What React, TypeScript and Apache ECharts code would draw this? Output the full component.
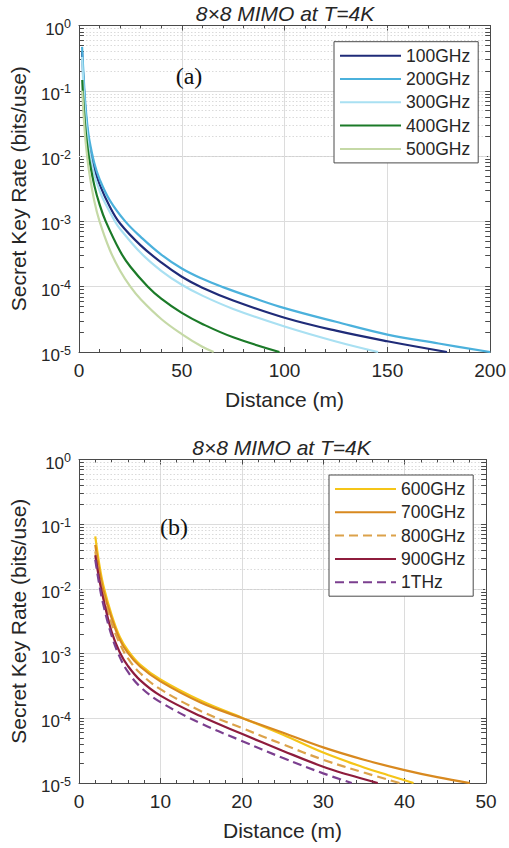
import React, { useEffect, useRef } from "react";
import * as echarts from "echarts";

// ---------- Data ----------
// Panel (a)
const dist100 = [1.5, 2, 3, 4, 5, 7.5, 10, 15, 20, 30, 40, 50, 60, 75, 100, 125, 150, 179];
const rate100 = [0.4, 0.18, 0.057, 0.0257, 0.015, 0.0064, 0.0037, 0.00168, 0.00093, 0.00043, 0.000235, 0.000142, 0.0000965, 0.0000615, 0.0000335, 0.0000212, 0.0000146, 0.00001];

const dist200 = [1.5, 2, 3, 4, 5, 7.5, 10, 15, 22.5, 30, 40, 50, 60, 70, 85, 100, 125, 150, 175, 200];
const rate200 = [0.47, 0.23, 0.069, 0.031, 0.018, 0.0077, 0.00445, 0.0021, 0.001, 0.00058, 0.00031, 0.00019, 0.000132, 0.0000985, 0.000067, 0.000047, 0.000029, 0.0000185, 0.0000135, 0.00001];

const dist300 = [1.5, 2, 3, 4, 5, 7.5, 10, 12, 17.5, 20, 30, 40, 50, 60, 75, 100, 125, 145.5];
const rate300 = [0.33, 0.15, 0.046, 0.0205, 0.012, 0.0051, 0.00297, 0.0021, 0.001, 0.000766, 0.00033, 0.000175, 0.000107, 0.000073, 0.0000457, 0.0000246, 0.0000145, 0.00001];

const dist400 = [1.6, 2, 3, 4, 5, 7.5, 10, 13, 20, 25, 33.5, 40, 50, 60, 75, 97.5];
const rate400 = [0.146, 0.08, 0.029, 0.0148, 0.0089, 0.0035, 0.00182, 0.001, 0.000348, 0.000202, 0.0001, 0.0000656, 0.0000397, 0.0000269, 0.0000168, 0.00001];

const dist500 = [1.6, 2, 3, 4, 5, 7.5, 10, 15, 20, 25, 30, 40, 50, 60, 65.5];
const rate500 = [0.1, 0.056, 0.0199, 0.0097, 0.00555, 0.00201, 0.001, 0.000365, 0.000175, 0.0001, 0.000064, 0.000032, 0.0000188, 0.000012, 0.00001];

// Panel (b)
const dist600 = [2, 2.5, 3, 4, 5, 6, 7.5, 10, 15, 20, 25, 30, 35, 38, 41.1];
const rate600 = [0.0646, 0.0237, 0.0112, 0.00397, 0.00182, 0.00112, 0.000676, 0.000398, 0.000186, 0.0001023, 0.0000562, 0.0000295, 0.0000174, 0.0000132, 0.00001];

const dist700 = [2, 2.5, 3, 4, 5, 6, 7.5, 10, 15, 20, 25, 30, 35, 40, 44, 48];
const rate700 = [0.0479, 0.01905, 0.00933, 0.00355, 0.00166, 0.001023, 0.000631, 0.000372, 0.000174, 0.0001012, 0.0000603, 0.0000355, 0.0000229, 0.0000158, 0.0000123, 0.00001];

const dist800 = [2, 2.5, 3, 4, 5, 6, 7.5, 10, 15, 20, 25, 30, 35, 39.4];
const rate800 = [0.038, 0.01585, 0.00794, 0.00295, 0.001445, 0.000851, 0.000501, 0.000282, 0.0001288, 0.0000708, 0.0000398, 0.0000229, 0.0000145, 0.00001];

const dist900 = [2, 2.5, 3, 4, 5, 6, 7.5, 10, 15, 20, 25, 30, 33, 36.7];
const rate900 = [0.0331, 0.0138, 0.00692, 0.00219, 0.001047, 0.000646, 0.000389, 0.000224, 0.0001072, 0.0000575, 0.0000316, 0.0000178, 0.0000135, 0.00001];

const dist1T = [2, 2.5, 3, 4, 5, 6, 7.5, 10, 15, 20, 25, 30, 33.5];
const rate1T = [0.0282, 0.01148, 0.00562, 0.001905, 0.000891, 0.000525, 0.000309, 0.000178, 0.0000832, 0.0000447, 0.0000245, 0.0000141, 0.00001];

const namesA = ["100GHz", "200GHz", "300GHz", "400GHz", "500GHz"];
const namesB = ["600GHz", "700GHz", "800GHz", "900GHz", "1THz"];

const titleText = "8×8 MIMO at T=4K";
const xName = "Distance (m)";
const yName = "Secret Key Rate (bits/use)";
const xTicksA = { min: 0, max: 200, interval: 50 };
const xTicksB = { min: 0, max: 50, interval: 10 };
const yRange = { min: 1e-5, max: 1 };

// ---------- Styles ----------
const FONT = '"Liberation Sans", Arial, sans-serif';
const TXT = "#262626";
const AX = "#4a4a4a";

const minorVals: number[] = [];
for (let k = -5; k < 0; k++) {
  for (let m = 2; m <= 9; m++) minorVals.push(m * Math.pow(10, k));
}

function mkSeries(name: string, dist: number[], rate: number[], color: string, dashed: boolean, g: number) {
  return {
    type: "line",
    name,
    xAxisIndex: g * 2,
    yAxisIndex: g * 2,
    data: dist.map((d, i) => [d, rate[i]]),
    symbol: "none",
    showSymbol: false,
    smooth: 0.4,
    lineStyle: { color, width: 2.2, type: dashed ? [9, 5] : "solid" },
    itemStyle: { color },
    emphasis: { disabled: true },
    z: 5,
  };
}

function helperSeries(g: number, xmin: number, xmax: number, tl: number) {
  const gridLines = minorVals.map((v) => ({ yAxis: v }));
  const ticks: any[] = [];
  minorVals.forEach((v) => {
    ticks.push([{ coord: [xmin, v] }, { coord: [xmin + tl, v] }]);
    ticks.push([{ coord: [xmax - tl, v] }, { coord: [xmax, v] }]);
  });
  return [
    {
      type: "line",
      xAxisIndex: g * 2,
      yAxisIndex: g * 2,
      data: [],
      silent: true,
      z: 1,
      markLine: {
        silent: true,
        symbol: ["none", "none"],
        label: { show: false },
        animation: false,
        lineStyle: { color: "#d0d0d0", width: 0.8, type: [1.5, 2] },
        emphasis: { disabled: true },
        data: gridLines,
      },
    },
    {
      type: "line",
      xAxisIndex: g * 2,
      yAxisIndex: g * 2,
      data: [],
      silent: true,
      z: 6,
      markLine: {
        silent: true,
        symbol: ["none", "none"],
        label: { show: false },
        animation: false,
        lineStyle: { color: AX, width: 1, type: "solid" },
        emphasis: { disabled: true },
        data: ticks,
      },
    },
  ];
}

function xAxes(g: number, t: { min: number; max: number; interval: number }) {
  const base = {
    gridIndex: g,
    type: "value",
    min: t.min,
    max: t.max,
    interval: t.interval,
    axisLine: { show: true, onZero: false, lineStyle: { color: AX, width: 1 } },
    axisTick: { show: true, inside: true, length: 5, lineStyle: { color: AX } },
    minorTick: { show: true, splitNumber: 5, length: 3, lineStyle: { color: AX } },
  };
  return [
    {
      ...base,
      position: "bottom",
      splitLine: { show: true, lineStyle: { color: "#dcdcdc", width: 1 } },
      axisLabel: { show: true, fontSize: 19, color: TXT, fontFamily: FONT, margin: 9 },
      name: xName,
      nameLocation: "middle",
      nameGap: 37,
      nameTextStyle: { fontSize: 21, color: TXT, fontFamily: FONT },
    },
    {
      ...base,
      position: "top",
      splitLine: { show: false },
      axisLabel: { show: false },
    },
  ];
}

function yAxes(g: number) {
  const base = {
    gridIndex: g,
    type: "log",
    logBase: 10,
    min: yRange.min,
    max: yRange.max,
    splitNumber: 5,
    axisLine: { show: true, onZero: false, lineStyle: { color: AX, width: 1 } },
    axisTick: { show: true, inside: true, length: 5, lineStyle: { color: AX } },
  };
  return [
    {
      ...base,
      position: "left",
      splitLine: { show: true, lineStyle: { color: "#dcdcdc", width: 1 } },
      axisLabel: {
        show: true,
        margin: 8,
        padding: [4, 0, 0, 0],
        formatter: (v: number) => {
          const e = Math.round(Math.log10(v));
          return `{b|10}{e|${e}}`;
        },
        rich: {
          b: { fontSize: 17, fontFamily: FONT, color: TXT, lineHeight: 20, verticalAlign: "bottom" },
          e: { fontSize: 12.5, fontFamily: FONT, color: TXT, lineHeight: 12, verticalAlign: "top" },
        },
      },
      name: yName,
      nameLocation: "middle",
      nameGap: 50,
      nameTextStyle: { fontSize: 21, color: TXT, fontFamily: FONT },
    },
    {
      ...base,
      position: "right",
      splitLine: { show: false },
      axisLabel: { show: false },
    },
  ];
}

function legend(names: string[], left: number, top: number) {
  return {
    data: names,
    orient: "vertical",
    left,
    top,
    itemWidth: 61,
    itemHeight: 10,
    itemGap: 5.3,
    padding: [5, 8, 5, 5],
    borderColor: AX,
    borderWidth: 1,
    backgroundColor: "#ffffff",
    selectedMode: false,
    itemStyle: { opacity: 0 },
    textStyle: { fontSize: 17.5, color: TXT, fontFamily: FONT, lineHeight: 18 },
    z: 10,
  };
}

export default function App() {
  const ref = useRef<HTMLDivElement>(null);
  useEffect(() => {
    if (!ref.current) return;
    const chart = echarts.init(ref.current, undefined, { renderer: "svg" });
    const option: any = {
      animation: false,
      backgroundColor: "#ffffff",
      grid: [
        { left: 79, top: 25.5, width: 412, height: 326.5 },
        { left: 77, top: 459.5, width: 409, height: 323.5 },
      ],
      xAxis: [...xAxes(0, xTicksA), ...xAxes(1, xTicksB)],
      yAxis: [...yAxes(0), ...yAxes(1)],
      legend: [legend(namesA, 334, 41.7), legend(namesB, 329, 475)],
      series: [
        ...helperSeries(0, xTicksA.min, xTicksA.max, 2.4),
        ...helperSeries(1, xTicksB.min, xTicksB.max, 0.6),
        mkSeries(namesA[0], dist100, rate100, "#1f2b78", false, 0),
        mkSeries(namesA[1], dist200, rate200, "#4bb1dc", false, 0),
        mkSeries(namesA[2], dist300, rate300, "#a9e0f2", false, 0),
        mkSeries(namesA[3], dist400, rate400, "#1b7a28", false, 0),
        mkSeries(namesA[4], dist500, rate500, "#c5d9a6", false, 0),
        mkSeries(namesB[0], dist600, rate600, "#f5c518", false, 1),
        mkSeries(namesB[1], dist700, rate700, "#d8891f", false, 1),
        mkSeries(namesB[2], dist800, rate800, "#dca24a", true, 1),
        mkSeries(namesB[3], dist900, rate900, "#8e1c3c", false, 1),
        mkSeries(namesB[4], dist1T, rate1T, "#7b3f8f", true, 1),
      ],
      graphic: [
        {
          type: "text",
          x: 285,
          y: 13,
          z: 100,
          silent: true,
          style: { text: titleText, font: `italic 21px ${FONT}`, fill: TXT, textAlign: "center", textVerticalAlign: "middle" },
        },
        {
          type: "text",
          x: 281.5,
          y: 447,
          z: 100,
          silent: true,
          style: { text: titleText, font: `italic 21px ${FONT}`, fill: TXT, textAlign: "center", textVerticalAlign: "middle" },
        },
        {
          type: "text",
          x: 189,
          y: 76,
          z: 100,
          silent: true,
          style: { text: "(a)", font: `24px "Liberation Serif", "Times New Roman", serif`, fill: "#111", textAlign: "center", textVerticalAlign: "middle" },
        },
        {
          type: "text",
          x: 174,
          y: 527,
          z: 100,
          silent: true,
          style: { text: "(b)", font: `24px "Liberation Serif", "Times New Roman", serif`, fill: "#111", textAlign: "center", textVerticalAlign: "middle" },
        },
      ],
    };
    chart.setOption(option);
    return () => chart.dispose();
  }, []);
  return (
    <div
      ref={ref}
      style={{ position: "absolute", left: 0, top: 0, width: 509, height: 848, background: "#fff" }}
    />
  );
}
